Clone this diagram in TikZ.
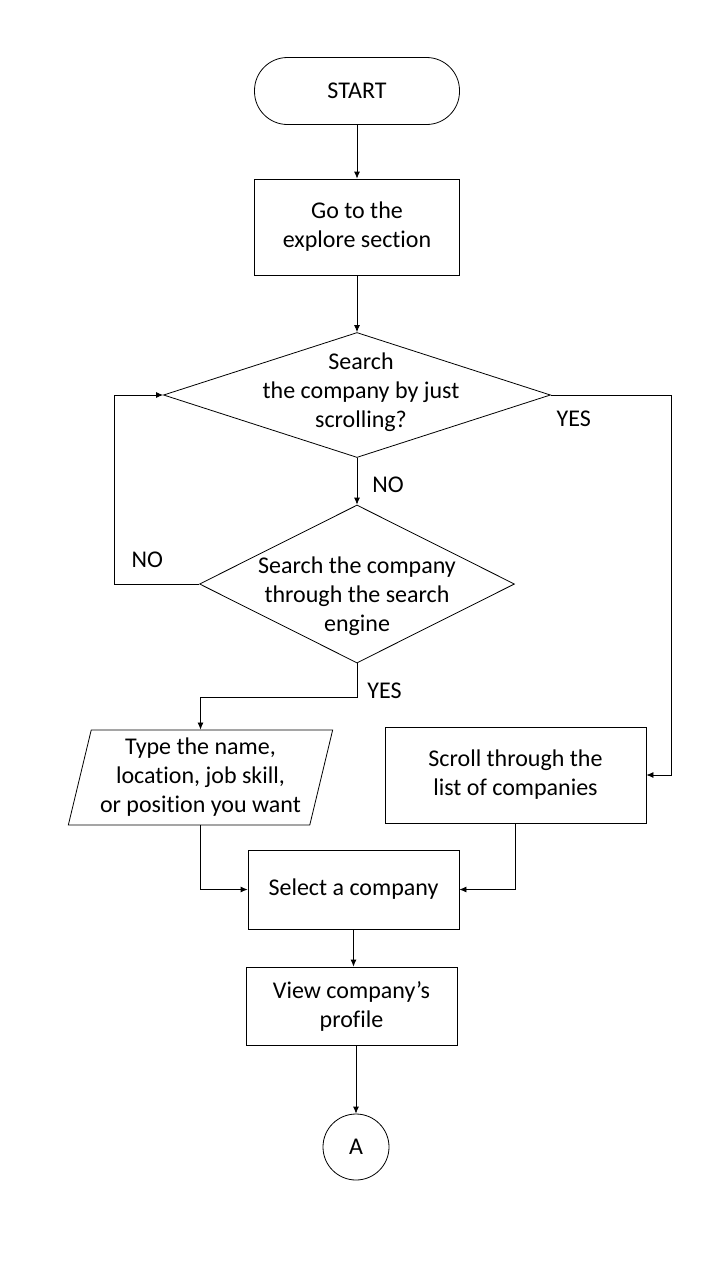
\documentclass[tikz,border=0pt]{standalone}
\usepackage{fontspec}
\setmainfont{Carlito}[Ligatures=NoCommon]
\usetikzlibrary{shapes.geometric,arrows.meta}

\begin{document}
\begin{tikzpicture}[x=1pt,y=-1pt,line width=0.8pt,>={Latex[length=7pt,width=6pt]},
		every node/.style={font=\fontsize{24}{29}\selectfont},
		terminal/.style={draw,rounded corners=33pt,minimum width=205pt,minimum height=67pt},
		process/.style={draw,align=center,inner sep=0},
		decision/.style={draw,diamond,inner sep=0},
		inout/.style={draw,trapezium,trapezium left angle=75,trapezium right angle=105,trapezium stretches=true,align=center,inner sep=0},
		onpage/.style={draw,circle,minimum size=66pt,inner sep=0},
		lbl/.style={inner sep=0}]
		\useasboundingbox (0,0) rectangle (720,1280);
		\node[terminal] (start) at (357,91) {START};
		\node[process,minimum width=205pt,minimum height=96pt] (goto) at (357,227) {Go to the\\explore section};
		\node[decision,minimum width=387pt,minimum height=125pt] (dec1) at (357,395) {};
		\node[align=center,inner sep=0] (dec1text) at (361,392) {Search\\the company by just\\scrolling?};
		\node[decision,minimum width=315pt,minimum height=158pt] (dec2) at (357,584) {};
		\node[align=center,inner sep=0] (dec2text) at (357,596) {Search the company\\through the search\\engine};
		\node[inout,minimum width=265pt,minimum height=95pt] (typein) at (200.5,777.5) {Type the name,\\location, job skill,\\or position you want};
		\node[process,minimum width=261pt,minimum height=96pt] (scroll) at (515.5,775) {Scroll through the\\list of companies};
		\node[process,minimum width=211pt,minimum height=79pt] (select) at (353.5,889.5) {Select a company};
		\node[process,minimum width=211pt,minimum height=78pt] (view) at (351.5,1006) {View company’s\\profile};
		\node[onpage] (conA) at (356,1147) {A};
		\draw[->] (start) -- (goto);
		\draw[->] (goto) -- (dec1);
		\draw[->] (dec1.south) -- node[lbl,right=15pt,pos=0.57] {NO} (dec2.north);
		\draw[->] (dec2.west) -- node[lbl,above=16pt,pos=0.61] {NO} ++(-85,0) |- (dec1.west);
		\draw[->] (dec1.east) -- node[lbl,below=16pt,pos=0.19] {YES} ++(120,0) |- (scroll.east);
		\draw[->] (dec2.south) -- node[lbl,right=10pt,pos=0.8] {YES} ++(0,34) -| (typein.north);
		\draw[->] (typein.south) |- (select.west);
		\draw[->] (scroll.south) |- (select.east);
		\draw[->] (select.south) -- (select.south |- view.north);
		\draw[->] (conA |- view.south) -- (conA);
	\end{tikzpicture}
\end{document}
